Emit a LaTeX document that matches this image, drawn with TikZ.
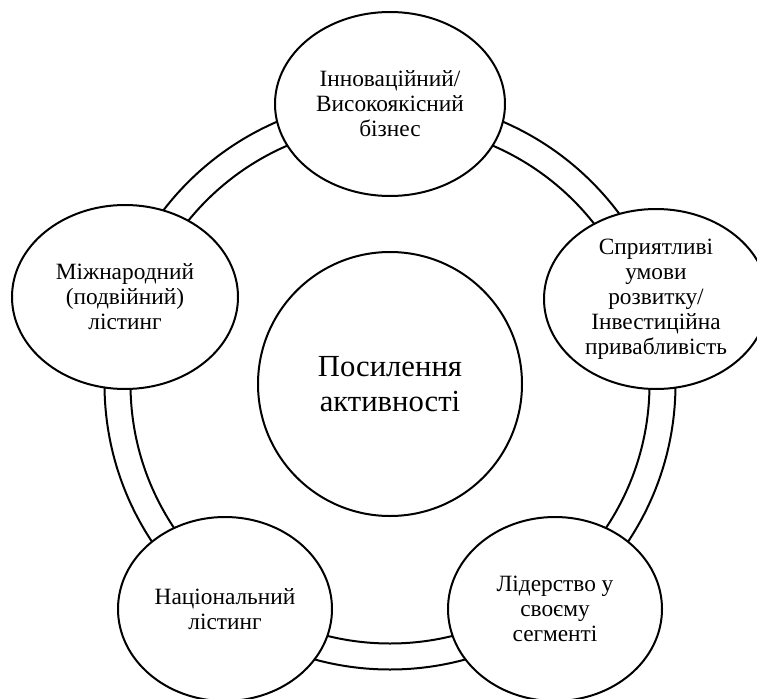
\documentclass[tikz,border=0pt]{standalone}
\usepackage{fontspec}
\setmainfont{Liberation Serif}
\usetikzlibrary{shapes.geometric}
\begin{document}
\begin{tikzpicture}[x=0.75pt,y=-0.75pt,
  lw/.style={line width=1.5pt},
  bubble/.style={ellipse, draw, lw, fill=white, inner sep=0pt, align=center,
    font=\fontsize{17.5}{18.75}\selectfont},
  hub/.style={circle, draw, lw, fill=white, inner sep=0pt, minimum size=198pt,
    align=center, font=\fontsize{23}{26.25}\selectfont},
  ringline/.style={circle, draw, lw, inner sep=0pt}]
\useasboundingbox (0,0) rectangle (757,699);
\coordinate (c) at (390,384);
% double ring
\node[ringline, minimum size=428.25pt] (outer) at (c) {};
\node[ringline, minimum size=389.25pt] (inner) at (c) {};
% centre
\node[hub] (hub) at (c) {Посилення\\активності};
% bubbles
\node[bubble, minimum width=172.5pt, minimum height=138pt] (top) at (390,104)
  {Інноваційний/\\Високоякісний\\бізнес};
\node[bubble, minimum width=169.5pt, minimum height=138pt] (left) at (125,297)
  {Міжнародний\\(подвійний)\\лістинг};
\node[bubble, minimum width=168pt, minimum height=135pt] (right) at (656,299)
  {Сприятливі\\умови\\розвитку/\\Інвестиційна\\привабливість};
\node[bubble, minimum width=160.5pt, minimum height=138pt] (bl) at (225,609)
  {Національний\\лістинг};
\node[bubble, minimum width=160.5pt, minimum height=138pt] (br) at (555,609)
  {Лідерство у\\своєму\\сегменті};
\end{tikzpicture}
\end{document}
